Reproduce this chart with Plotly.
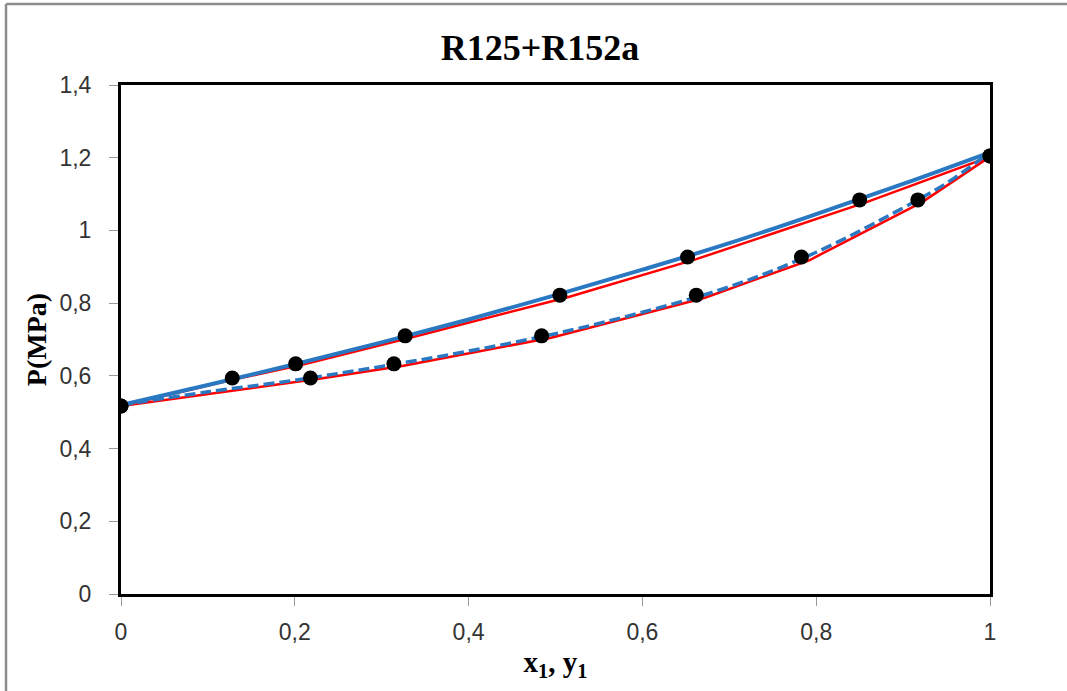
import plotly.graph_objects as go

# Experimental data (pressure in MPa)
p_exp = [0.517, 0.594, 0.633, 0.710, 0.822, 0.927, 1.084, 1.205]
x_exp = [0.0, 0.128, 0.201, 0.327, 0.505, 0.652, 0.850, 1.0]
y_exp = [0.0, 0.218, 0.314, 0.484, 0.662, 0.783, 0.917, 1.0]

# Model 1 (blue) - bubble and dew curves
x_blue = [0.0, 0.1, 0.2, 0.3, 0.4, 0.5, 0.6, 0.7, 0.8, 0.9, 1.0]
p_blue_bub = [0.520, 0.575, 0.632, 0.692, 0.755, 0.822, 0.892, 0.965, 1.045, 1.128, 1.215]
y_blue = [0.0, 0.1, 0.2, 0.3, 0.4, 0.5, 0.6, 0.7, 0.8, 0.9, 0.95, 1.0]
p_blue_dew = [0.520, 0.556, 0.588, 0.626, 0.668, 0.716, 0.775, 0.845, 0.940, 1.062, 1.130, 1.215]

# Model 2 (red) - bubble and dew curves
x_red = [0.0, 0.132, 0.207, 0.335, 0.515, 0.662, 0.858, 1.0]
p_red_bub = [0.517, 0.591, 0.630, 0.706, 0.817, 0.921, 1.078, 1.203]
y_red = [0.0, 0.1, 0.228, 0.325, 0.495, 0.672, 0.792, 0.922, 1.0]
p_red_dew = [0.517, 0.550, 0.592, 0.628, 0.705, 0.815, 0.918, 1.078, 1.203]

xticks = [0, 0.2, 0.4, 0.6, 0.8, 1.0]
xtick_text = ["0", "0,2", "0,4", "0,6", "0,8", "1"]
yticks = [0, 0.2, 0.4, 0.6, 0.8, 1.0, 1.2, 1.4]
ytick_text = ["0", "0,2", "0,4", "0,6", "0,8", "1", "1,2", "1,4"]

RED = "#FF0000"
BLUE = "#2A78C2"

fig = go.Figure()
fig.add_trace(go.Scatter(x=x_red, y=p_red_bub, mode="lines",
                         line=dict(color=RED, width=2.5), showlegend=False))
fig.add_trace(go.Scatter(x=y_red, y=p_red_dew, mode="lines",
                         line=dict(color=RED, width=2.5), showlegend=False))
fig.add_trace(go.Scatter(x=x_blue, y=p_blue_bub, mode="lines",
                         line=dict(color=BLUE, width=4, shape="spline"), showlegend=False))
fig.add_trace(go.Scatter(x=y_blue, y=p_blue_dew, mode="lines",
                         line=dict(color=BLUE, width=3.5, dash="11px,5px", shape="spline"),
                         showlegend=False))
fig.add_trace(go.Scatter(x=x_exp, y=p_exp, mode="markers",
                         marker=dict(color="black", size=15), showlegend=False))
fig.add_trace(go.Scatter(x=y_exp, y=p_exp, mode="markers",
                         marker=dict(color="black", size=15), showlegend=False))

fig.update_layout(
    width=1067, height=691,
    margin=dict(l=121, r=77, t=85, b=97),
    paper_bgcolor="white", plot_bgcolor="white",
    title=dict(text="<b>R125+R152a</b>", x=(540 - 121) / 869, xref="paper", xanchor="center",
               y=1 - 47 / 691, yanchor="middle",
               font=dict(family="Liberation Serif", size=36, color="black")),
    xaxis=dict(range=[0, 1], tickvals=xticks, ticktext=xtick_text,
               showgrid=False, zeroline=False,
               showline=True, linecolor="black", linewidth=3, mirror=True,
               ticks="outside", ticklen=9, tickcolor="#999999", tickwidth=1,
               ticklabelstandoff=6,
               tickfont=dict(family="Liberation Sans", size=23, color="#333333"),
               title=dict(text="<b>x<sub>1</sub>, y<sub>1</sub></b>", standoff=9,
                          font=dict(family="Liberation Serif", size=29, color="black"))),
    yaxis=dict(range=[0, 1.4], tickvals=yticks, ticktext=ytick_text,
               showgrid=False, zeroline=False,
               showline=True, linecolor="black", linewidth=3, mirror=True,
               ticks="outside", ticklen=9, tickcolor="#999999", tickwidth=1,
               ticklabelstandoff=13,
               tickfont=dict(family="Liberation Sans", size=23, color="#333333"),
               title=dict(text="<b>P(MPa)</b>", standoff=5,
                          font=dict(family="Liberation Serif", size=28, color="black"))),
)

# outer chart border (gray): top and left edges visible
x_left = (6 - 121) / 869
y_top = (594 - 4) / 509
fig.add_shape(type="line", xref="paper", yref="paper",
              x0=x_left, x1=(1067 - 121) / 869, y0=y_top, y1=y_top,
              line=dict(color="#8C8C8C", width=2.5), layer="below")
fig.add_shape(type="line", xref="paper", yref="paper",
              x0=x_left, x1=x_left, y0=(594 - 691) / 509, y1=y_top,
              line=dict(color="#8C8C8C", width=2.5), layer="below")

fig.write_html("out.html", config={"displayModeBar": False},
               post_script="document.body.style.margin='0';document.body.style.overflow='hidden';")
